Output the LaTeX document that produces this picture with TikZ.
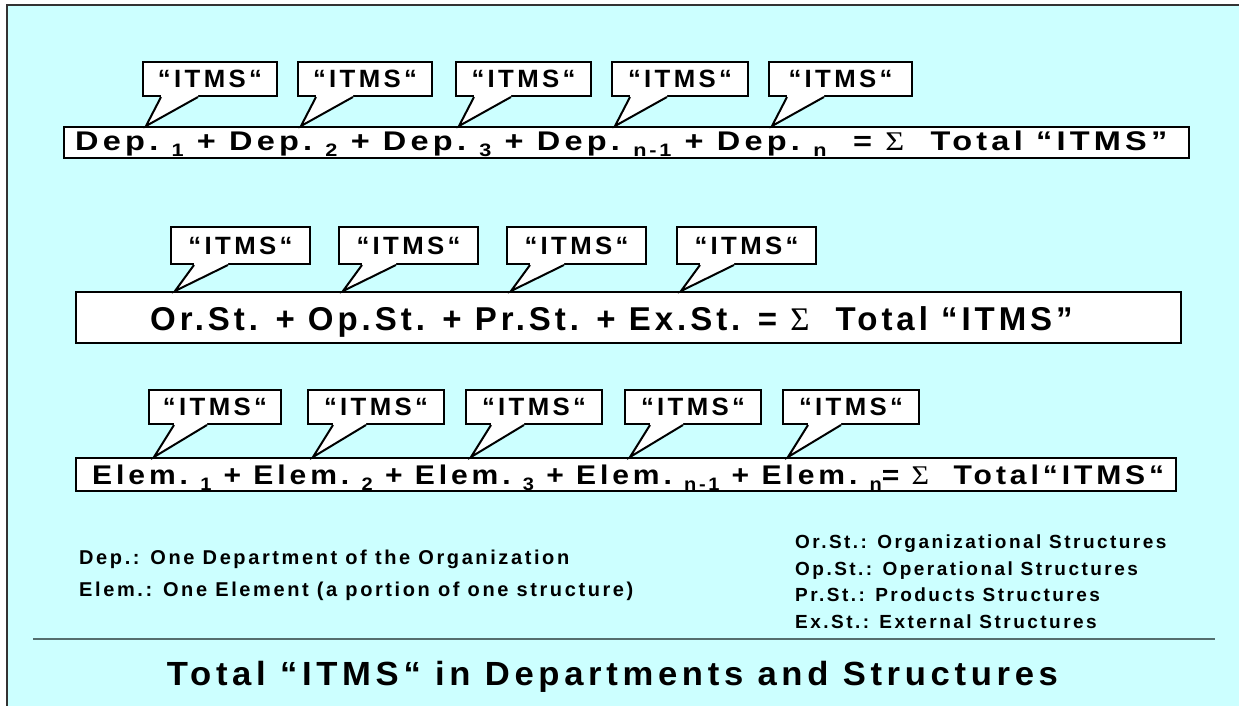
\documentclass[tikz,border=0pt]{standalone}
\usepackage{fontspec}
\setmainfont{Liberation Sans}
\newfontfamily\sigmafont{Liberation Serif}
\usepackage{graphicx}
\usetikzlibrary{calc}

\definecolor{paper}{RGB}{204,255,255}
\definecolor{framegray}{RGB}{51,51,51}
\definecolor{rulegray}{RGB}{84,110,110}

% bold text with extra tracking
\newcommand\trk[1]{\bfseries\addfontfeature{LetterSpace=#1}}
% lowered index after "Dep." / "Elem."
\newcommand\lowsub[1]{\raisebox{-0.25em}{\fontsize{18}{18}\selectfont #1}}
\newcommand\sumsign{{\sigmafont\mdseries Σ}}
\newcommand\itms{\resizebox{104pt}{\height}{\fontsize{25}{25}\selectfont\trk{13}“ITMS“}}

\begin{document}
\begin{tikzpicture}[x=1pt,y=-1pt,
  eqbox/.style={draw=black, fill=white, line width=2.4pt, inner sep=0pt, anchor=north west},
  callbox/.style={draw=black, fill=white, line width=2pt, inner sep=0pt, anchor=north west},
  pointer/.style={draw=black, line width=2pt, line join=miter},
  txt/.style={inner sep=0pt, anchor=base west},
]
\useasboundingbox (0,0) rectangle (1239,706);

% background sheet with its left and top edges
\fill[paper] (7,5) rectangle (1239,706);
\draw[framegray, line width=2pt] (7,706) -- (7,5) -- (1239,5);

% formula boxes
\node[eqbox, minimum width=1125pt, minimum height=31pt] (r1) at (63,126) {};
\node[eqbox, minimum width=1105pt, minimum height=51pt] (r2) at (75,291) {};
\node[eqbox, minimum width=1100pt, minimum height=33pt] (r3) at (75,457) {};

% formula texts
\node[txt] (t1) at (75,150) {\resizebox{1092pt}{\height}{\fontsize{27}{27}\selectfont\trk{13}%
  Dep.\ \lowsub{1} + Dep.\ \lowsub{2} + Dep.\ \lowsub{3} + Dep.\ \lowsub{n-1} + Dep.\ \lowsub{n} \ = \sumsign\ \ Total “ITMS”}};
\node[txt] (t2) at (150,330) {\fontsize{33}{33}\selectfont\trk{12}%
  Or.St. + Op.St. + Pr.St. + Ex.St. = \sumsign\ \ Total “ITMS”};
\node[txt] (t3) at (92,484) {\resizebox{1072pt}{\height}{\fontsize{27}{27}\selectfont\trk{13}%
  Elem.\ \lowsub{1} + Elem.\ \lowsub{2} + Elem.\ \lowsub{3} + Elem.\ \lowsub{n-1} + Elem.\ \lowsub{n}= \sumsign\ \ Total“ITMS“}};

% callouts, row 1
\foreach \i/\l/\r in {1/142/276,2/297/431,3/455/590,4/611/747,5/768/911}{
  \node[callbox, minimum width={\r-\l}, minimum height=34pt] (a\i) at (\l,61) {\itms};
  \coordinate (pa\i) at ($(a\i.south west |- r1.north)+(4,0)$);
  \fill[white] ($(a\i.south west)+(19,-2)$) -- ($(a\i.south west)+(19,0)$) -- (pa\i)
     -- ($(a\i.south west)+(56,0)$) -- ($(a\i.south west)+(56,-2)$) -- cycle;
  \draw[pointer] ($(a\i.south west)+(19,0)$) -- (pa\i) -- ($(a\i.south west)+(56,0)$);
}
% callouts, row 2
\foreach \i/\l/\r in {1/170/309,2/338/477,3/506/645,4/676/815}{
  \node[callbox, minimum width={\r-\l}, minimum height=37pt] (b\i) at (\l,226) {\itms};
  \coordinate (pb\i) at ($(b\i.south west |- r2.north)+(5,0)$);
  \fill[white] ($(b\i.south west)+(24,-2)$) -- ($(b\i.south west)+(24,0)$) -- (pb\i)
     -- ($(b\i.south west)+(58,0)$) -- ($(b\i.south west)+(58,-2)$) -- cycle;
  \draw[pointer] ($(b\i.south west)+(24,0)$) -- (pb\i) -- ($(b\i.south west)+(58,0)$);
}
% callouts, row 3
\foreach \i/\l/\r in {1/148/280,2/307/443,3/465/601,4/624/760,5/782/918}{
  \node[callbox, minimum width={\r-\l}, minimum height=34pt] (c\i) at (\l,389) {\itms};
  \coordinate (pc\i) at ($(c\i.south west |- r3.north)+(6,0)$);
  \fill[white] ($(c\i.south west)+(26,-2)$) -- ($(c\i.south west)+(26,0)$) -- (pc\i)
     -- ($(c\i.south west)+(59,0)$) -- ($(c\i.south west)+(59,-2)$) -- cycle;
  \draw[pointer] ($(c\i.south west)+(26,0)$) -- (pc\i) -- ($(c\i.south west)+(59,0)$);
}

% abbreviations
\node[txt] (k1) at (79,564) {\fontsize{20}{20}\selectfont\trk{13}Dep.: One Department of the Organization};
\node[txt] (k2) at (79,596) {\fontsize{20}{20}\selectfont\trk{13}Elem.: One Element (a portion of one structure)};
\node[txt] (k3) at (795,548) {\fontsize{19}{19}\selectfont\trk{13}Or.St.: Organizational Structures};
\node[txt] (k4) at (795,575) {\fontsize{19}{19}\selectfont\trk{13}Op.St.: Operational Structures};
\node[txt] (k5) at (795,601) {\fontsize{19}{19}\selectfont\trk{13}Pr.St.: Products Structures};
\node[txt] (k6) at (795,628) {\fontsize{19}{19}\selectfont\trk{13}Ex.St.: External Structures};

% separator and title
\draw[rulegray, line width=2pt] (33,639) -- (1215,639);
\node[inner sep=0pt, anchor=base] (title) at (612.5,685)
  {\resizebox{891pt}{\height}{\fontsize{33.5}{34}\selectfont\trk{13.5}Total “ITMS“ in Departments and Structures}};
\end{tikzpicture}
\end{document}
